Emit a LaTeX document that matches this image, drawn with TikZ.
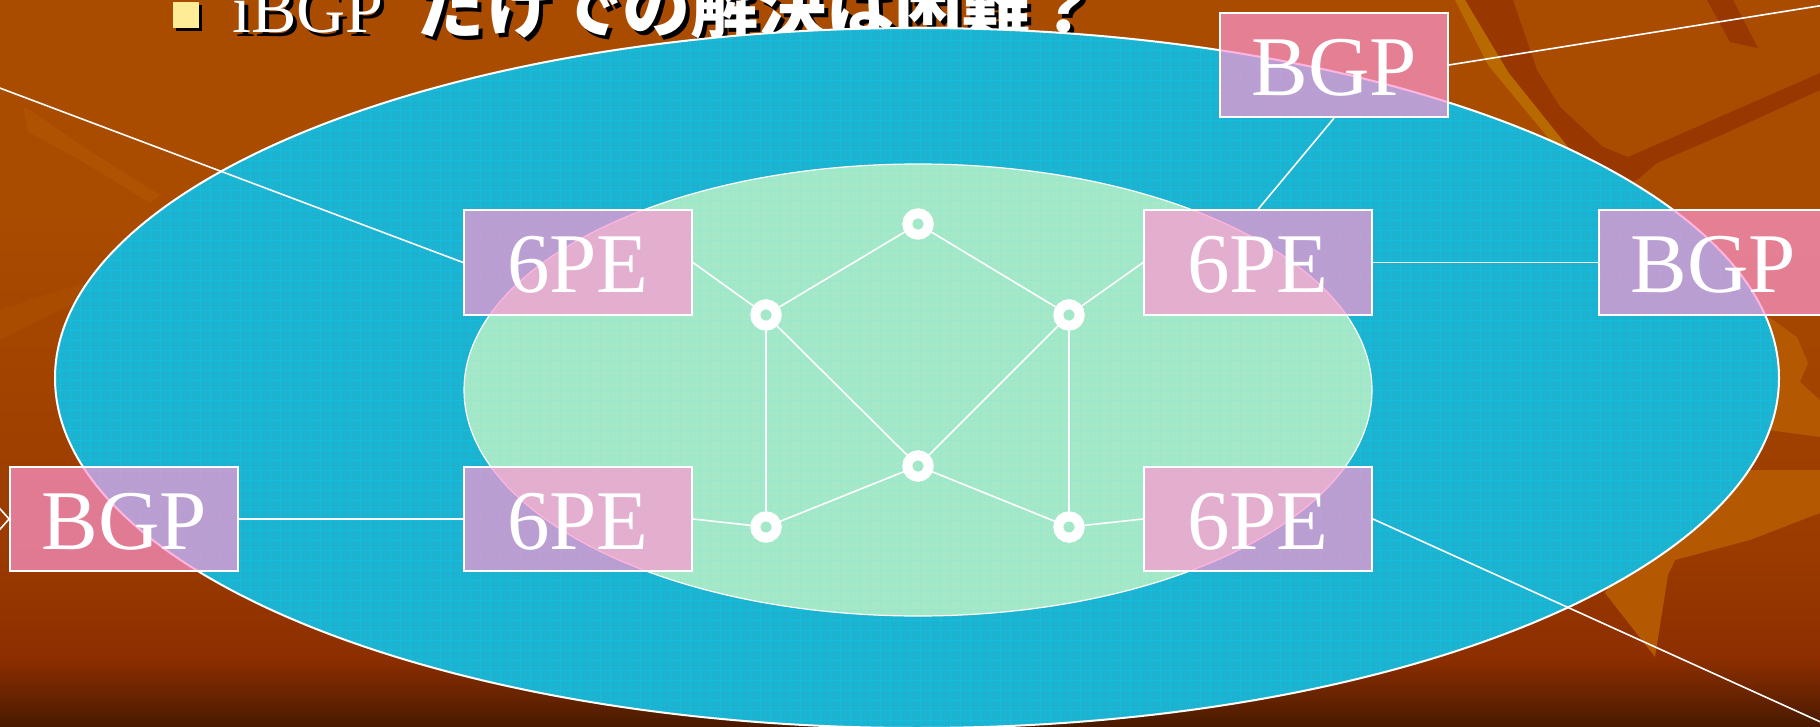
\documentclass[tikz,border=0pt]{standalone}
\usepackage{fontspec}
\setmainfont{Liberation Serif}
\newfontfamily\jpfont{Noto Sans CJK JP}
\newcommand{\shtext}[1]{\rlap{\hspace{4pt}\raisebox{-4pt}{\color{black}#1}}#1}
\definecolor{bgtop}{RGB}{170,76,0}
\definecolor{bgmid}{RGB}{154,58,0}
\definecolor{bglow}{RGB}{140,46,0}
\definecolor{bgbot}{RGB}{72,26,0}
\definecolor{outerfill}{RGB}{28,178,208}
\definecolor{outergrid}{RGB}{0,215,250}
\definecolor{innerfill}{RGB}{165,232,200}
\definecolor{innergrid}{RGB}{120,235,225}
\definecolor{boxpink}{RGB}{255,150,210}
\definecolor{bullety}{RGB}{255,236,150}
\definecolor{streakdark}{RGB}{152,55,0}
\definecolor{streakgold}{RGB}{184,106,0}
\definecolor{streaklight}{RGB}{180,88,2}
\begin{document}
\begin{tikzpicture}[x=1pt,y=-1pt,
  pebox/.style={draw=white, line width=1.8pt, fill=boxpink, fill opacity=0.7,
    text opacity=1, text=white, minimum width=228pt, minimum height=104.5pt,
    inner sep=0pt, text height=61pt, text depth=0pt, font=\fontsize{85}{85}\selectfont},
  router/.style={circle, draw=white, line width=10pt, minimum size=21.4pt, inner sep=0pt},
  link/.style={draw=white, line width=1.6pt},
  rim/.style={draw=white, line width=2pt},
  titletext/.style={anchor=base west, inner sep=0pt, text=white, font=\fontsize{68}{68}\selectfont}
]
\useasboundingbox (0,0) rectangle (1820,727);
\clip (0,0) rectangle (1820,727);

% ---------- background ----------
\fill[bgtop] (0,0) rectangle (1820,727);
\shade[top color=bgtop, bottom color=bgmid] (0,200) rectangle (1820,560);
\shade[top color=bgmid, bottom color=bglow] (0,559) rectangle (1820,660);
\shade[top color=bglow, bottom color=bgbot] (0,659) rectangle (1820,727);

% streaks top right
\fill[streakdark] (1465,0) -- (1513,0) -- (1537,70) -- (1560,107) -- (1603,147) -- (1628,157)
  -- (1820,73) -- (1820,90) -- (1717,137) -- (1657,163) -- (1637,180) -- (1600,190)
  -- (1568,147) -- (1508,72) -- cycle;
\fill[streakgold] (1455,0) -- (1465,0) -- (1508,72) -- (1568,147) -- (1600,190) -- (1585,190)
  -- (1550,140) -- (1488,65) -- cycle;
\fill[streakdark] (1707,0) -- (1733,0) -- (1758,48) -- (1730,42) -- cycle;
% streaks lower right
\fill[streaklight] (1755,318) -- (1770,318) -- (1797,337) -- (1808,363) -- (1800,382) -- (1820,400)
  -- (1820,437) -- (1768,430) -- cycle;
\fill[streaklight] (1700,470) -- (1820,470) -- (1820,513) -- (1750,540) -- (1675,560)
  -- (1668,575) -- (1655,657) -- (1605,593) -- (1640,540) -- cycle;
% faint streaks left
\fill[streaklight, opacity=0.5] (23,107) -- (30,110) -- (85,148) -- (160,195) -- (150,203)
  -- (80,160) -- (28,132) -- cycle;
\fill[streaklight, opacity=0.35] (0,310) -- (83,283) -- (90,295) -- (0,340) -- cycle;

% ---------- title ----------
\fill[black] (176,5) rectangle (202,31);
\node[fill=bullety, minimum size=26pt, inner sep=0pt] (bullet) at (186,15) {};
\node[titletext] (t1) at (232,33) {\shtext{iBGP}};
\node[titletext] (t2) at (418,33) {\shtext{\jpfont\bfseries だけでの解決は困難？}};

% ---------- ellipses ----------
\fill[outerfill] (917,378) ellipse [x radius=862, y radius=350];
\begin{scope}
  \clip (917,378) ellipse [x radius=862, y radius=350];
  \draw[outergrid, opacity=0.35, line width=0.8pt, step=10pt] (0,0) grid (1820,727);
\end{scope}
\draw[rim] (917,378) ellipse [x radius=862, y radius=350];

\fill[innerfill] (918,390) ellipse [x radius=454, y radius=226];
\begin{scope}
  \clip (918,390) ellipse [x radius=454, y radius=226];
  \draw[innergrid, opacity=0.3, line width=0.8pt, step=10pt] (0,0) grid (1820,727);
\end{scope}
\draw[draw=white, line width=1.2pt] (918,390) ellipse [x radius=454, y radius=226];

% ---------- nodes ----------
\node[pebox] (peTL) at (578,262.5) {6PE};
\node[pebox] (peTR) at (1258,262.5) {6PE};
\node[pebox] (peBL) at (578,519) {6PE};
\node[pebox] (peBR) at (1258,519) {6PE};
\node[pebox] (bgpT) at (1334,65) {BGP};
\node[pebox] (bgpR) at (1713,262.5) {BGP};
\node[pebox] (bgpL) at (124,519) {BGP};

\node[router] (r1) at (918,224) {};
\node[router] (r2) at (766,315) {};
\node[router] (r3) at (1069,315) {};
\node[router] (r4) at (918,466) {};
\node[router] (r5) at (766,527) {};
\node[router] (r6) at (1069,527) {};

\coordinate (offTL) at (-60,65.5);
\coordinate (offTR) at (1900,-7);
\coordinate (offBR) at (1900,758);
\coordinate (offL1) at (-40,464);
\coordinate (offL2) at (-40,574);

% ---------- connectors ----------
\draw[link] (r1) -- (r2);
\draw[link] (r1) -- (r3);
\draw[link] (r2) -- (r4);
\draw[link] (r3) -- (r4);
\draw[link] (r2) -- (r5);
\draw[link] (r3) -- (r6);
\draw[link] (r4) -- (r5);
\draw[link] (r4) -- (r6);
\draw[link] (peTL.east) -- (r2);
\draw[link] (peTR.west) -- (r3);
\draw[link] (peBL.east) -- (r5);
\draw[link] (peBR.west) -- (r6);
\draw[link] (peTL.west) -- (offTL);
\draw[link] (peTR.north) -- (bgpT.south);
\draw[link] (bgpT.east) -- (offTR);
\draw[link] (peTR.east) -- (bgpR.west);
\draw[link] (bgpL.east) -- (peBL.west);
\draw[link] (bgpL.west) -- (offL1);
\draw[link] (bgpL.west) -- (offL2);
\draw[link] (peBR.east) -- (offBR);
\end{tikzpicture}
\end{document}
